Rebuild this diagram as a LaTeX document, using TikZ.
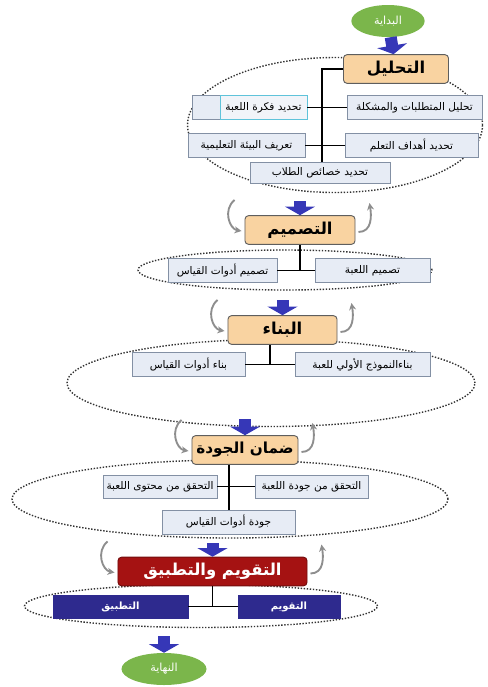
\documentclass[tikz,border=0pt]{standalone}
\usepackage{fontspec}
\newfontfamily\arabicfont[Script=Arabic]{DejaVu Sans}
\TeXXeTstate=1
\newcommand{\AR}[1]{{\arabicfont\beginR #1\endR}}
\usetikzlibrary{positioning,arrows.meta,shapes.geometric,calc}
\definecolor{adPeach}{HTML}{F9D3A1}
\definecolor{adEdge}{HTML}{5E5E5E}
\definecolor{adItem}{HTML}{E7ECF5}
\definecolor{adItemEdge}{HTML}{8390A4}
\definecolor{adCyan}{HTML}{5FC3DA}
\definecolor{adRed}{HTML}{A51212}
\definecolor{adNavy}{HTML}{2E2A8E}
\definecolor{adGreen}{HTML}{7BB64B}
\definecolor{adBlue}{HTML}{3637B7}
\definecolor{adGray}{HTML}{8E8E8E}

\begin{document}
\begin{tikzpicture}[x=0.03cm, y=-0.03cm,
      ring/.style={ellipse, draw=black!80, line width=1.2pt, dash pattern=on 1.2pt off 1.4pt},
      phase/.style={rounded corners=3pt, draw=adEdge, thick, fill=adPeach,
                    font=\bfseries\fontsize{14}{16}\selectfont, minimum height=0.86cm,
                    inner xsep=1pt},
      task/.style={draw=adItemEdge, thick, fill=adItem, font=\fontsize{9}{11}\selectfont,
                   minimum height=0.74cm, inner sep=1pt},
      darktask/.style={draw=adNavy, thick, fill=adNavy, text=white,
                       font=\bfseries\fontsize{8.5}{10}\selectfont, minimum height=0.69cm},
      terminal/.style={ellipse, fill=adGreen, text=white, font=\fontsize{9.5}{11}\selectfont,
                       minimum width=2.2cm, minimum height=0.96cm},
      bigarrow/.style={adBlue, line width=0.36cm, -{Triangle[width=0.9cm, length=0.26cm]}},
      link/.style={black, line width=1.2pt},
      cyc/.style={adGray, line width=1.6pt, -{Stealth[length=6pt, width=6pt]}}]
    \useasboundingbox (0,0) rectangle (488,687);
    % dotted groups behind the boxes
    \node[ring, minimum width=8.85cm,  minimum height=4.05cm] (ring1) at (335,125) {};
    \node[ring, minimum width=8.82cm,  minimum height=1.2cm]  (ring2) at (285,270) {};
    \node[ring, minimum width=12.24cm, minimum height=2.61cm] (ring3) at (271,383) {};
    \node[ring, minimum width=13.08cm, minimum height=2.34cm] (ring4) at (230,499) {};
    \node[ring, minimum width=10.59cm, minimum height=1.29cm] (ring5) at (201,606) {};

    % phases
    \node[terminal] (start) at (388,21) {\AR{البداية}};
    \node[phase, minimum width=3.15cm] (ana) at (396,69) {\AR{التحليل}};
    \node[phase, minimum width=3.3cm]  (design) at (300,230) {\AR{التصميم}};
    \node[phase, minimum width=3.27cm] (build) at (282.5,330) {\AR{البناء}};
    \node[phase, minimum width=3.18cm, font=\bfseries\fontsize{13}{15}\selectfont]
         (quality) at (245,450) {\AR{ضمان الجودة}};
    \node[phase, minimum width=5.67cm, fill=adRed, draw=adRed!70!black, text=white]
         (evalapp) at (212.5,571.5) {\AR{التقويم والتطبيق}};
    \node[terminal, minimum width=2.55cm] (finish) at (164,669) {\AR{النهاية}};

    % analysis tasks
    \node[task, minimum width=4.05cm] (req) at (414.5,107.5) {\AR{تحليل المتطلبات والمشكلة}};
    \node[task, minimum width=3.45cm] (idea) at (249.5,107.5) {};
    \node[task, draw=adCyan, fill=adItem!60, minimum width=2.61cm, minimum height=0.7cm]
         (ideatxt) at (263.5,107.5) {\AR{تحديد فكرة اللعبة}};
    \node[task, minimum width=3.99cm] (goal) at (411.5,145.5) {\AR{تحديد أهداف التعلم}};
    \node[task, minimum width=3.51cm] (env) at (246.5,145.5) {\AR{تعريف البيئة التعليمية}};
    \node[task, minimum width=4.2cm, minimum height=0.64cm] (traits) at (320,173) {\AR{تحديد خصائص الطلاب}};
    \coordinate (t1) at (322,69);
    \draw[link] (ana.west) -- (t1) -- (t1 |- traits.north);
    \draw[link] (idea.east) -- (req.west);
    \draw[link] (env.east) -- (goal.west);

    % design tasks
    \node[task, minimum width=3.27cm] (dtool) at (222.5,270.5) {\AR{تصميم أدوات القياس}};
    \node[task, minimum width=3.45cm] (dgame) at (372.5,270.5) {\AR{تصميم اللعبة}};
    \draw[link] (design.south) -- (design.south |- dtool.east);
    \draw[link] (dtool.east) -- (dgame.west);

    % build tasks
    \node[task, minimum width=3.39cm] (btool) at (188.5,364.5) {\AR{بناء أدوات القياس}};
    \node[task, minimum width=4.05cm] (bproto) at (362.5,364.5) {\AR{بناءالنموذج الأولي للعبة}};
    \coordinate (t3) at (270,364.5);
    \draw[link] (t3 |- build.south) -- (t3);
    \draw[link] (btool.east) -- (bproto.west);

    % quality tasks
    \node[task, minimum width=3.42cm, minimum height=0.69cm] (qcontent) at (160,486.5) {\AR{التحقق من محتوى اللعبة}};
    \node[task, minimum width=3.39cm, minimum height=0.69cm] (qgame) at (311.5,486.5) {\AR{التحقق من جودة اللعبة}};
    \node[task, minimum width=3.99cm, minimum height=0.72cm] (qtool) at (228.5,522) {\AR{جودة أدوات القياس}};
    \coordinate (t4) at (229,486.5);
    \draw[link] (t4 |- quality.south) -- (t4 |- qtool.north);
    \draw[link] (qcontent.east) -- (qgame.west);

    % evaluation tasks
    \node[darktask, minimum width=4.05cm] (apply) at (120.5,606.5) {\AR{التطبيق}};
    \node[darktask, minimum width=3.06cm] (evalbox) at (289,606.5) {\AR{التقويم}};
    \draw[link] (evalapp.south) -- (evalapp.south |- apply.east);
    \draw[link] (apply.east) -- (evalbox.west);

    % flow arrows
    \coordinate (in2) at (300,201);
    \coordinate (in3) at (282.5,300);
    \coordinate (in4) at (245,419);
    \coordinate (in5) at (212.5,543);
    \coordinate (in6) at (164,636);
    \draw[bigarrow] (start) -- (ana);
    \draw[bigarrow] (in2) -- (design);
    \draw[bigarrow] (in3) -- (build);
    \draw[bigarrow] (in4) -- (quality);
    \draw[bigarrow] (in5) -- (evalapp);
    \draw[bigarrow] (in6) -- (finish);

    % feedback loops
    \foreach \b in {design,build,quality,evalapp} {
      \draw[cyc] ($(\b.west)+(-10,-30)$) .. controls +(-12,10) and +(-12,-2) .. ($(\b.west)+(-3,1)$);
      \draw[cyc] ($(\b.east)+(3,2)$) .. controls +(14,0) and +(2,12) .. ($(\b.east)+(14,-27)$);
    }
  \end{tikzpicture}
\end{document}
